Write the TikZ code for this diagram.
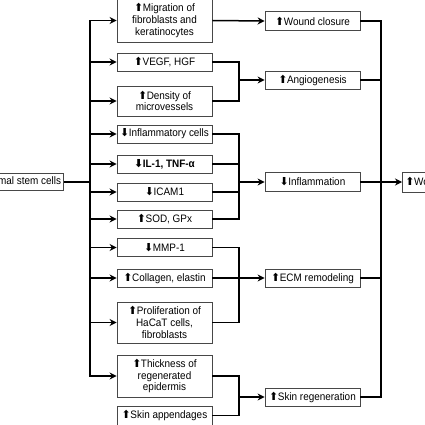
\documentclass[tikz,border=0pt]{standalone}
\usepackage{fontspec}
\setmainfont{Liberation Sans}[FakeStretch=0.92]
\newfontfamily\symf{DejaVu Sans}
\usetikzlibrary{arrows.meta}
\newcommand{\upa}{{\symf\fontsize{11pt}{11pt}\selectfont ⬆}\kern-0.5pt}
\newcommand{\dna}{{\symf\fontsize{11pt}{11pt}\selectfont ⬇}\kern-0.5pt}
\newcommand{\boxfont}{\fontsize{10.8pt}{11.7pt}\selectfont}
\begin{document}
\begin{tikzpicture}[x=1pt,y=-1pt,
  box/.style={draw=black!72, line width=0.8pt, fill=white, inner sep=1pt, align=center,
    font=\boxfont},
  lbox/.style={box, minimum width=95pt},
  conn/.style={line width=1.5pt, black},
  arr/.style={conn, -{Stealth[length=7pt,width=7pt]}}]
\useasboundingbox (0,0) rectangle (425,425);
\clip (0,0) rectangle (425,425);
\fill[white] (0,0) rectangle (425,425);
% source
\node[box, anchor=east, minimum height=17pt, inner xsep=2.5pt] (src) at (64,182) {Mesenchymal stem cells};
% left column
\node[lbox, minimum height=44pt] (mig) at (164.5,20.5) {\upa Migration of\\fibroblasts and\\keratinocytes};
\node[lbox, minimum height=18pt] (vegf) at (164.5,62) {\upa VEGF, HGF};
\node[lbox, minimum height=30pt] (dens) at (164.5,101) {\upa Density of\\microvessels};
\node[lbox, minimum height=18pt] (inf) at (164.5,134) {\dna Inflammatory cells};
\node[lbox, minimum height=18pt] (il) at (164.5,164) {\textbf{\dna IL-1, TNF-α}};
\node[lbox, minimum height=18pt] (icam) at (164.5,192) {\dna ICAM1};
\node[lbox, minimum height=18pt] (sod) at (164.5,219) {\upa SOD, GPx};
\node[lbox, minimum height=18pt] (mmp) at (164.5,247.5) {\dna MMP-1};
\node[lbox, minimum height=18pt] (coll) at (164.5,278) {\upa Collagen, elastin};
\node[lbox, minimum height=41pt] (prol) at (164.5,322.5) {\upa Proliferation of\\HaCaT cells,\\fibroblasts};
\node[lbox, minimum height=42pt] (thick) at (164.5,376) {\upa Thickness of\\regenerated\\epidermis};
\node[lbox, minimum height=19pt] (app) at (164.5,415.5) {\upa Skin appendages};
% middle column
\node[lbox, minimum height=19pt] (wc) at (312.5,21) {\upa Wound closure};
\node[lbox, minimum height=18pt] (ang) at (312.5,80) {\upa Angiogenesis};
\node[lbox, minimum height=19pt] (infl) at (312.5,182) {\dna Inflammation};
\node[lbox, minimum height=18pt] (ecm) at (312.5,278) {\upa ECM remodeling};
\node[lbox, minimum height=18pt] (sr) at (312.5,397) {\upa Skin regeneration};
% result
\node[box, anchor=west, minimum height=20pt, inner xsep=3pt] (heal) at (402,182) {\upa Wound healing};
% trunk
\coordinate (t) at (90,182);
\draw[conn] (src.east) -- (t);
\foreach \b in {mig,vegf,dens,inf,il,icam,sod,mmp,coll,prol,thick}
  \draw[arr] (t) |- (\b.west);
% joins
\coordinate (j1) at (239,80);
\coordinate (j2) at (239,182);
\coordinate (j3) at (239,278);
\coordinate (j4) at (239,397);
\draw[arr] (mig.east) -- (wc.west);
\draw[conn] (vegf.east) -| (j1);
\draw[conn] (dens.east) -| (j1);
\draw[arr] (j1) -- (ang.west);
\foreach \b in {inf,il,icam,sod} \draw[conn] (\b.east) -| (j2);
\draw[arr] (j2) -- (infl.west);
\foreach \b in {mmp,coll,prol} \draw[conn] (\b.east) -| (j3);
\draw[arr] (j3) -- (ecm.west);
\foreach \b in {thick,app} \draw[conn] (\b.east) -| (j4);
\draw[arr] (j4) -- (sr.west);
% right trunk
\coordinate (r) at (381,182);
\foreach \b in {wc,ang,ecm,sr} \draw[conn] (\b.east) -| (r);
\draw[arr] (infl.east) -- (heal.west);
\end{tikzpicture}
\end{document}
